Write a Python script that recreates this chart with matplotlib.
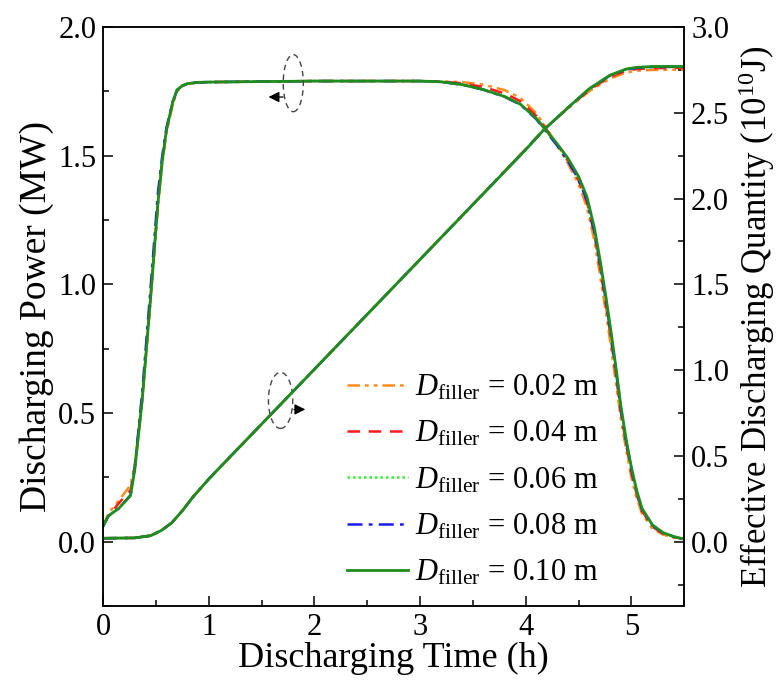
"""
Discharging power and effective discharging quantity vs. time for several filler diameters.
"""

import numpy as np
import matplotlib
matplotlib.use('Agg')
import matplotlib.pyplot as plt
from matplotlib.patches import Ellipse
from matplotlib.ticker import MultipleLocator

plt.rcParams['font.family'] = ['Liberation Serif', 'DejaVu Serif']
plt.rcParams['mathtext.fontset'] = 'custom'
plt.rcParams['mathtext.rm'] = 'Liberation Serif'
plt.rcParams['mathtext.it'] = 'Liberation Serif:italic'

# Data
labels = ['0.02', '0.04', '0.06', '0.08', '0.10']
colors = ['#ff8c1a', '#ff1a1a', '#33ee33', '#1a1aee', '#1f8c1f']
styles = [(0, (5, 2, 1.5, 2, 1.5, 2)), (0, (5, 3.5)), (0, (1, 1.2)), (0, (6, 2.5, 1.5, 2.5)), '-']

t_power = [0, 0.05, 0.15, 0.26, 0.30, 0.37, 0.45, 0.52, 0.56, 0.60,
           0.66, 0.70, 0.75, 0.80, 0.90, 1.0, 1.5, 2.0, 2.5, 3.0,
           3.2, 3.4, 3.6, 3.8, 3.95, 4.1, 4.2, 4.3, 4.4, 4.5,
           4.58, 4.65, 4.71, 4.76, 4.81, 4.86, 4.90, 4.95, 5.0, 5.05,
           5.1, 5.2, 5.3, 5.4, 5.5]

power_002 = [0.06, 0.11, 0.16, 0.22, 0.30, 0.55, 0.94, 1.31, 1.47, 1.59,
             1.70, 1.75, 1.77, 1.78, 1.785, 1.786, 1.788, 1.79, 1.79, 1.79,
             1.789, 1.786, 1.776, 1.755, 1.725, 1.665, 1.605, 1.54, 1.47, 1.39,
             1.30, 1.17, 1.02, 0.89, 0.75, 0.60, 0.48, 0.36, 0.25, 0.17,
             0.11, 0.05, 0.028, 0.016, 0.01]
power_004 = [0.06, 0.10, 0.15, 0.20, 0.29, 0.55, 0.95, 1.32, 1.48, 1.60,
             1.71, 1.755, 1.772, 1.78, 1.785, 1.786, 1.788, 1.79, 1.79, 1.79,
             1.788, 1.781, 1.767, 1.742, 1.712, 1.655, 1.60, 1.542, 1.48, 1.405,
             1.32, 1.195, 1.05, 0.92, 0.78, 0.63, 0.505, 0.38, 0.27, 0.185,
             0.12, 0.058, 0.031, 0.018, 0.01]
power_006 = [0.06, 0.10, 0.13, 0.18, 0.28, 0.55, 0.95, 1.32, 1.48, 1.60,
             1.71, 1.755, 1.772, 1.78, 1.785, 1.786, 1.788, 1.79, 1.79, 1.79,
             1.787, 1.776, 1.757, 1.73, 1.70, 1.645, 1.594, 1.543, 1.487, 1.415,
             1.335, 1.212, 1.072, 0.942, 0.80, 0.652, 0.524, 0.395, 0.286, 0.197,
             0.128, 0.064, 0.035, 0.02, 0.01]
power_008 = [0.06, 0.10, 0.13, 0.18, 0.29, 0.58, 0.99, 1.36, 1.50, 1.61,
             1.71, 1.755, 1.772, 1.78, 1.785, 1.786, 1.788, 1.79, 1.79, 1.79,
             1.787, 1.776, 1.756, 1.729, 1.698, 1.642, 1.59, 1.538, 1.48, 1.408,
             1.326, 1.204, 1.064, 0.934, 0.792, 0.645, 0.517, 0.39, 0.282, 0.194,
             0.126, 0.063, 0.034, 0.02, 0.01]
power_010 = [0.06, 0.10, 0.13, 0.18, 0.28, 0.55, 0.95, 1.32, 1.48, 1.60,
             1.71, 1.755, 1.772, 1.78, 1.785, 1.786, 1.788, 1.79, 1.79, 1.79,
             1.787, 1.776, 1.757, 1.73, 1.70, 1.645, 1.595, 1.545, 1.49, 1.42,
             1.34, 1.22, 1.08, 0.95, 0.81, 0.66, 0.53, 0.40, 0.29, 0.20,
             0.13, 0.065, 0.035, 0.02, 0.01]

t_energy = [0, 0.3, 0.45, 0.55, 0.65, 0.75, 0.85, 1.0, 1.14, 1.5, 2.0, 2.5, 3.0, 3.5, 4.0,
            4.17, 4.4, 4.6, 4.8, 4.95, 5.05, 5.2, 5.5]

energy_002 = [0.02, 0.022, 0.035, 0.065, 0.11, 0.18, 0.26, 0.365, 0.455, 0.685, 1.005, 1.325,
              1.645, 1.966, 2.29, 2.40, 2.525, 2.625, 2.70, 2.735, 2.745, 2.75, 2.752]
energy_004 = [0.02, 0.022, 0.035, 0.065, 0.11, 0.18, 0.26, 0.365, 0.455, 0.685, 1.005, 1.325,
              1.645, 1.966, 2.288, 2.40, 2.528, 2.632, 2.71, 2.745, 2.755, 2.76, 2.762]
energy_006 = [0.02, 0.022, 0.035, 0.065, 0.11, 0.18, 0.26, 0.365, 0.455, 0.685, 1.005, 1.325,
              1.645, 1.965, 2.285, 2.40, 2.53, 2.638, 2.718, 2.752, 2.762, 2.767, 2.768]
energy_008 = [0.02, 0.022, 0.035, 0.065, 0.11, 0.18, 0.26, 0.365, 0.455, 0.685, 1.005, 1.325,
              1.645, 1.965, 2.285, 2.40, 2.53, 2.638, 2.718, 2.752, 2.762, 2.767, 2.768]
energy_010 = [0.02, 0.022, 0.035, 0.065, 0.11, 0.18, 0.26, 0.365, 0.455, 0.685, 1.005, 1.325,
              1.645, 1.965, 2.285, 2.40, 2.53, 2.64, 2.72, 2.755, 2.765, 2.77, 2.77]

power_all = [power_002, power_004, power_006, power_008, power_010]
energy_all = [energy_002, energy_004, energy_006, energy_008, energy_010]

fig = plt.figure(figsize=(7.81, 6.86), dpi=100)
ax = fig.add_axes([0.132, 0.1166, 0.744, 0.844])
ax2 = ax.twinx()

handles = []
for lab, col, ls, p, e in zip(labels, colors, styles, power_all, energy_all):
    lw = 2.0 if ls == '-' else 1.8
    h, = ax.plot(t_power, p, color=col, linestyle=ls, linewidth=lw,
                 label=r'$D_{\mathrm{filler}}$ = ' + lab + ' m')
    ax2.plot(t_energy, e, color=col, linestyle=ls, linewidth=lw)
    handles.append(h)

ax.set_xlim(0, 5.5)
ax.set_ylim(-0.25, 2.0)
ax2.set_ylim(-0.375, 3.0)

ax.xaxis.set_major_locator(MultipleLocator(1))
ax.xaxis.set_minor_locator(MultipleLocator(0.5))
ax.yaxis.set_minor_locator(MultipleLocator(0.25))
ax2.yaxis.set_minor_locator(MultipleLocator(0.25))
ax.set_yticks([0, 0.5, 1.0, 1.5, 2.0])
ax2.set_yticks([0, 0.5, 1.0, 1.5, 2.0, 2.5, 3.0])

for a in (ax, ax2):
    a.tick_params(which='major', direction='in', length=7, width=1.1, labelsize=22, pad=5)
    a.tick_params(which='minor', direction='in', length=4, width=1.1)
    for sp in a.spines.values():
        sp.set_linewidth(1.1)
ax.tick_params(top=False, right=False, which='both')
ax2.tick_params(top=False, left=False, which='both')

ax.set_xlabel('Discharging Time (h)', fontsize=26, labelpad=0)
ax.set_ylabel('Discharging Power (MW)', fontsize=27, labelpad=3)
ax2.set_ylabel(r'Effective Discharging Quantity (10$^{10}$J)', fontsize=25, labelpad=5)

# dashed ellipses marking which axis each curve family belongs to
ax.add_patch(Ellipse((1.80, 1.782), 0.19, 0.222, fill=False, linestyle=(0, (4, 3)),
                     edgecolor='#444444', linewidth=1.0, zorder=5))
ax.annotate('', xy=(1.54, 1.728), xytext=(1.73, 1.728),
            arrowprops=dict(arrowstyle='-|>', color='black', lw=0.9, mutation_scale=16))
ax.add_patch(Ellipse((1.68, 0.549), 0.23, 0.218, fill=False, linestyle=(0, (4, 3)),
                     edgecolor='#444444', linewidth=1.0, zorder=5))
ax.annotate('', xy=(1.94, 0.514), xytext=(1.78, 0.514),
            arrowprops=dict(arrowstyle='-|>', color='black', lw=0.9, mutation_scale=16))

ax2.legend(handles=handles, loc='upper left', bbox_to_anchor=(347 / 781, 1 - 373 / 686),
           bbox_transform=fig.transFigure, frameon=False, fontsize=22,
           handlelength=2.0, handletextpad=0.23, labelspacing=0.55, borderpad=0,
           borderaxespad=0)

fig.savefig('out.png', dpi=100)
